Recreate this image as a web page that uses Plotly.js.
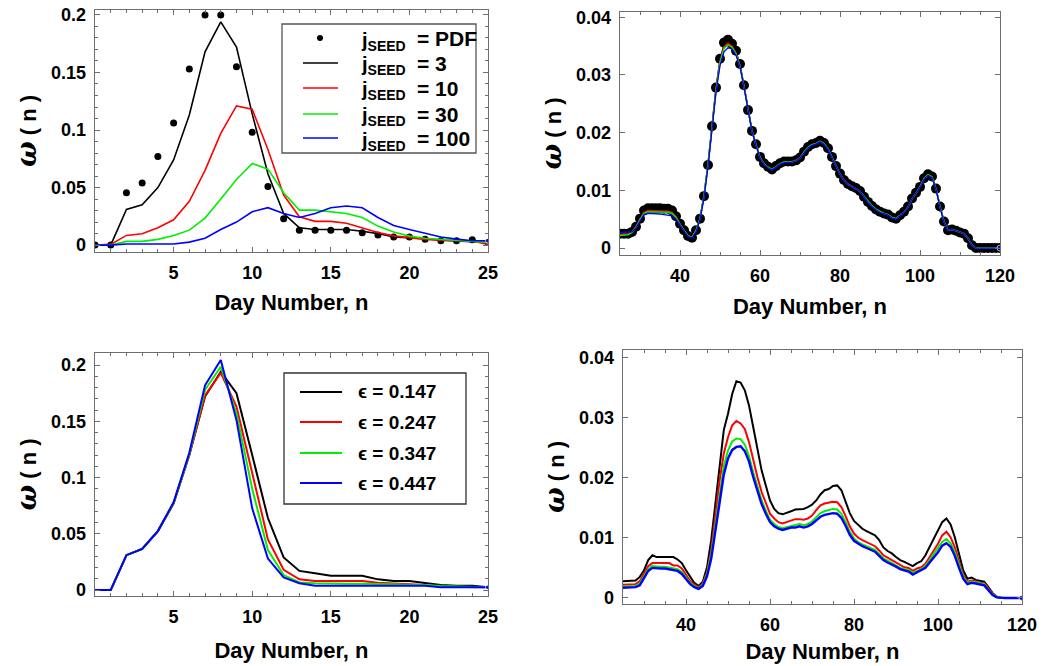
<!DOCTYPE html>
<html><head><meta charset="utf-8">
<script src="https://cdn.plot.ly/plotly-3.0.1.min.js"></script>
<style>html,body{margin:0;padding:0;background:#fff;}#chart{width:1061px;height:666px;}</style>
</head><body><div id="chart"></div>
<script>
// ---------- data ----------
const daysShort = [0,1,2,3,4,5,6,7,8,9,10,11,12,13,14,15,16,17,18,19,20,21,22,23,24,25];
const daysLong = [25,26,27,28,29,30,31,32,33,34,35,36,37,38,39,40,41,42,43,44,45,46,47,48,49,50,51,52,53,54,55,56,57,58,59,60,61,62,63,64,65,66,67,68,69,70,71,72,73,74,75,76,77,78,79,80,81,82,83,84,85,86,87,88,89,90,91,92,93,94,95,96,97,98,99,100,101,102,103,104,105,106,107,108,109,110,111,112,113,114,115,116,117,118,119,120];

// top-left: seeds
const tlPDF  = [0,0,0.0455,0.054,0.077,0.106,0.153,0.2,0.2,0.155,0.098,0.051,0.023,0.0128,0.0128,0.0128,0.0128,0.0107,0.0087,0.007,0.007,0.005,0.0038,0.0038,0.0046,0.0023];
const tlJ3   = [0,0,0.031,0.035,0.05,0.074,0.113,0.168,0.194,0.172,0.114,0.062,0.0275,0.015,0.0136,0.0136,0.0136,0.012,0.010,0.007,0.0064,0.0055,0.0043,0.0038,0.003,0.0023];
const tlJ10  = [0,0.0006,0.0084,0.0099,0.015,0.022,0.038,0.065,0.097,0.121,0.118,0.083,0.0435,0.0246,0.0206,0.0206,0.019,0.015,0.011,0.008,0.0064,0.005,0.0043,0.0038,0.0035,0.0006];
const tlJ30  = [0,0,0.0032,0.0032,0.005,0.0084,0.013,0.0235,0.04,0.057,0.071,0.066,0.0455,0.0304,0.0304,0.029,0.0275,0.024,0.0165,0.0113,0.0078,0.006,0.005,0.0038,0.003,0.0023];
const tlJ100 = [0,0,0.001,0.001,0.001,0.001,0.0026,0.006,0.0136,0.02,0.029,0.0325,0.0275,0.024,0.0275,0.0325,0.034,0.0325,0.024,0.017,0.0136,0.01,0.007,0.0052,0.0038,0.0038];

// bottom-left: epsilon
const blE147 = [0,0,0.031,0.0365,0.0524,0.077,0.12,0.172,0.194,0.175,0.12,0.064,0.029,0.017,0.015,0.0127,0.0127,0.0127,0.0095,0.008,0.008,0.006,0.0044,0.0038,0.0038,0.0024];
const blE247 = [0,0,0.031,0.0365,0.0524,0.077,0.12,0.173,0.193,0.163,0.104,0.045,0.018,0.0095,0.008,0.008,0.008,0.008,0.0065,0.006,0.005,0.0044,0.003,0.003,0.003,0.0024];
const blE347 = [0,0,0.031,0.0365,0.0524,0.0775,0.121,0.178,0.1985,0.157,0.09,0.0355,0.0133,0.0068,0.006,0.0056,0.0056,0.0056,0.0056,0.0052,0.0044,0.0044,0.0035,0.003,0.0028,0.0024];
const blE447 = [0,0,0.031,0.0365,0.0524,0.078,0.122,0.182,0.2044,0.151,0.0726,0.028,0.0113,0.006,0.0038,0.0038,0.0038,0.0038,0.0038,0.0038,0.0038,0.0038,0.0024,0.0024,0.0024,0.0024];

// top-right: seeds (days 25-120)
const trPDF = [0.0025,0.0025,0.0025,0.0028,0.0037,0.0051,0.0065,0.0069,0.0069,0.0069,
 0.0069,0.0068,0.0068,0.0065,0.0055,0.0042,0.0031,0.0021,0.0018,0.0031,
 0.0051,0.0090,0.0144,0.0211,0.0278,0.0328,0.0356,0.0361,0.0354,0.0342,
 0.0319,0.0282,0.0239,0.0203,0.0180,0.0158,0.0147,0.0141,0.0136,0.0142,
 0.0147,0.0150,0.0150,0.0150,0.0152,0.0157,0.0167,0.0175,0.0180,0.0182,
 0.0186,0.0182,0.0173,0.0158,0.0142,0.0129,0.0118,0.0111,0.0107,0.0104,
 0.0099,0.0089,0.0080,0.0073,0.0067,0.0063,0.0060,0.0058,0.0053,0.0051,
 0.0057,0.0063,0.0072,0.0086,0.0096,0.0106,0.0121,0.0128,0.0124,0.0103,
 0.0072,0.0046,0.0031,0.0032,0.0030,0.0027,0.0025,0.0017,0.0005,0,
 0,0,0,0,0,0];
const trJ3 = [0.0025,0.0025,0.0026,0.0029,0.0038,0.0051,0.0064,0.0068,0.0068,0.0068,
 0.0068,0.0067,0.0067,0.0064,0.0055,0.0042,0.0031,0.0022,0.0019,0.0030,
 0.0052,0.0091,0.0145,0.0212,0.0277,0.0326,0.0352,0.0358,0.0352,0.0340,
 0.0318,0.0281,0.0239,0.0203,0.0180,0.0158,0.0147,0.0141,0.0137,0.0141,
 0.0146,0.0149,0.0150,0.0150,0.0152,0.0157,0.0166,0.0175,0.0180,0.0182,
 0.0185,0.0182,0.0173,0.0158,0.0142,0.0129,0.0118,0.0111,0.0107,0.0104,
 0.0099,0.0089,0.0080,0.0073,0.0067,0.0063,0.0060,0.0058,0.0053,0.0051,
 0.0057,0.0063,0.0072,0.0086,0.0096,0.0106,0.0121,0.0128,0.0124,0.0103,
 0.0072,0.0046,0.0031,0.0032,0.0030,0.0027,0.0025,0.0017,0.0005,0,
 0,0,0,0,0,0];
const trJ10 = [0.0024,0.0024,0.0025,0.0028,0.0037,0.0050,0.0062,0.0065,0.0065,0.0065,
 0.0065,0.0064,0.0064,0.0062,0.0054,0.0041,0.0030,0.0021,0.0019,0.0030,
 0.0051,0.0090,0.0145,0.0211,0.0275,0.0324,0.0349,0.0355,0.0350,0.0338,
 0.0316,0.0280,0.0238,0.0203,0.0179,0.0157,0.0146,0.0140,0.0136,0.0141,
 0.0146,0.0149,0.0149,0.0150,0.0152,0.0157,0.0166,0.0174,0.0179,0.0181,
 0.0185,0.0181,0.0172,0.0157,0.0141,0.0128,0.0118,0.0111,0.0107,0.0103,
 0.0098,0.0089,0.0080,0.0073,0.0067,0.0063,0.0060,0.0058,0.0053,0.0051,
 0.0056,0.0062,0.0071,0.0085,0.0095,0.0106,0.0120,0.0127,0.0123,0.0103,
 0.0072,0.0046,0.0031,0.0032,0.0030,0.0027,0.0025,0.0017,0.0005,0,
 0,0,0,0,0,0];
const trJ30 = [0.0022,0.0022,0.0023,0.0027,0.0036,0.0049,0.0060,0.0063,0.0063,0.0063,
 0.0063,0.0062,0.0062,0.0060,0.0053,0.0041,0.0030,0.0021,0.0019,0.0030,
 0.0051,0.0090,0.0145,0.0210,0.0273,0.0321,0.0346,0.0352,0.0348,0.0336,
 0.0315,0.0280,0.0238,0.0202,0.0179,0.0157,0.0146,0.0140,0.0136,0.0141,
 0.0146,0.0149,0.0149,0.0149,0.0151,0.0156,0.0166,0.0174,0.0179,0.0181,
 0.0185,0.0181,0.0172,0.0157,0.0141,0.0128,0.0117,0.0110,0.0106,0.0103,
 0.0098,0.0089,0.0080,0.0073,0.0067,0.0063,0.0060,0.0058,0.0053,0.0051,
 0.0056,0.0062,0.0071,0.0085,0.0095,0.0106,0.0120,0.0127,0.0123,0.0103,
 0.0072,0.0046,0.0031,0.0032,0.0030,0.0027,0.0025,0.0017,0.0005,0,
 0,0,0,0,0,0];
const trJ100 = [0.0027,0.0027,0.0027,0.0028,0.0035,0.0047,0.0058,0.0060,0.0060,0.0059,
 0.0059,0.0058,0.0057,0.0056,0.0050,0.0040,0.0029,0.0020,0.0018,0.0028,
 0.0049,0.0087,0.0141,0.0207,0.0270,0.0316,0.0340,0.0347,0.0345,0.0334,
 0.0314,0.0279,0.0237,0.0202,0.0178,0.0156,0.0145,0.0139,0.0135,0.0140,
 0.0145,0.0148,0.0148,0.0149,0.0151,0.0156,0.0165,0.0173,0.0178,0.0180,
 0.0184,0.0180,0.0171,0.0157,0.0141,0.0128,0.0117,0.0110,0.0106,0.0103,
 0.0098,0.0088,0.0079,0.0072,0.0066,0.0062,0.0059,0.0057,0.0052,0.0050,
 0.0056,0.0062,0.0071,0.0085,0.0095,0.0105,0.0119,0.0126,0.0122,0.0102,
 0.0071,0.0045,0.0031,0.0032,0.0030,0.0027,0.0025,0.0017,0.0005,0,
 0,0,0,0,0,0];

// bottom-right: epsilon (days 25-120)
const brE147 = [0.0028,0.0028,0.0028,0.0029,0.0035,0.0046,0.0063,0.0071,0.0068,0.0068,
 0.0068,0.0068,0.0068,0.0064,0.0058,0.0046,0.0035,0.0025,0.0020,0.0027,
 0.0051,0.0096,0.0157,0.0217,0.0279,0.0306,0.0339,0.0360,0.0358,0.0345,
 0.0320,0.0284,0.0245,0.0212,0.0187,0.0162,0.0148,0.0141,0.0139,0.0141,
 0.0144,0.0147,0.0148,0.0148,0.0151,0.0155,0.0162,0.0172,0.0179,0.0181,
 0.0186,0.0187,0.0179,0.0159,0.0141,0.0128,0.0121,0.0115,0.0111,0.0108,
 0.0104,0.0096,0.0084,0.0078,0.0074,0.0068,0.0063,0.0060,0.0057,0.0053,
 0.0058,0.0061,0.0071,0.0085,0.0097,0.0112,0.0126,0.0132,0.0122,0.0101,
 0.0074,0.0046,0.0032,0.0034,0.0030,0.0028,0.0027,0.0018,0.0008,0.0002,
 0,0,0,0,0,0];
const brE247 = [0.0022,0.0022,0.0022,0.0023,0.0028,0.0040,0.0053,0.0058,0.0058,0.0058,
 0.0058,0.0058,0.0054,0.0054,0.0049,0.0038,0.0028,0.0022,0.0018,0.0024,
 0.0043,0.0079,0.0134,0.0195,0.0240,0.0267,0.0287,0.0294,0.0290,0.0281,
 0.0259,0.0228,0.0201,0.0176,0.0157,0.0140,0.0132,0.0126,0.0124,0.0126,
 0.0129,0.0131,0.0131,0.0130,0.0132,0.0137,0.0146,0.0154,0.0157,0.0158,
 0.0160,0.0159,0.0151,0.0136,0.0119,0.0107,0.0100,0.0096,0.0093,0.0090,
 0.0086,0.0079,0.0071,0.0067,0.0063,0.0058,0.0054,0.0051,0.0050,0.0045,
 0.0049,0.0051,0.0057,0.0069,0.0079,0.0090,0.0104,0.0110,0.0101,0.0084,
 0.0060,0.0038,0.0027,0.0029,0.0028,0.0025,0.0025,0.0015,0.0007,0.0002,
 0,0,0,0,0,0];
const brE347 = [0.0019,0.0019,0.0019,0.0020,0.0024,0.0036,0.0048,0.0053,0.0052,0.0052,
 0.0052,0.0051,0.0049,0.0048,0.0043,0.0034,0.0025,0.0020,0.0016,0.0022,
 0.0040,0.0072,0.0122,0.0178,0.0219,0.0245,0.0260,0.0265,0.0264,0.0255,
 0.0236,0.0209,0.0184,0.0162,0.0145,0.0130,0.0123,0.0118,0.0116,0.0118,
 0.0120,0.0122,0.0123,0.0121,0.0123,0.0127,0.0134,0.0141,0.0144,0.0146,
 0.0148,0.0147,0.0140,0.0126,0.0110,0.0099,0.0093,0.0089,0.0086,0.0083,
 0.0080,0.0073,0.0066,0.0062,0.0058,0.0054,0.0050,0.0048,0.0046,0.0042,
 0.0045,0.0048,0.0053,0.0063,0.0071,0.0081,0.0093,0.0098,0.0091,0.0076,
 0.0055,0.0035,0.0025,0.0027,0.0026,0.0024,0.0023,0.0014,0.0006,0.0002,
 0,0,0,0,0,0];
const brE447 = [0.0017,0.0017,0.0017,0.0018,0.0021,0.0033,0.0045,0.0050,0.0049,0.0049,
 0.0049,0.0048,0.0046,0.0045,0.0040,0.0031,0.0023,0.0018,0.0015,0.0020,
 0.0036,0.0065,0.0112,0.0166,0.0205,0.0232,0.0246,0.0251,0.0252,0.0244,
 0.0227,0.0201,0.0177,0.0156,0.0140,0.0126,0.0119,0.0115,0.0113,0.0115,
 0.0117,0.0117,0.0119,0.0117,0.0119,0.0123,0.0129,0.0135,0.0138,0.0140,
 0.0141,0.0140,0.0133,0.0120,0.0105,0.0095,0.0090,0.0086,0.0083,0.0080,
 0.0077,0.0070,0.0063,0.0059,0.0056,0.0052,0.0048,0.0046,0.0044,0.0039,
 0.0043,0.0046,0.0050,0.0059,0.0067,0.0076,0.0087,0.0091,0.0085,0.0070,
 0.0050,0.0032,0.0023,0.0025,0.0024,0.0022,0.0021,0.0013,0.0005,0.0001,
 0,0,0,0,0,0];

const seedValues = ['PDF','3','10','30','100'];
const epsNames = ['ϵ = 0.147','ϵ = 0.247','ϵ = 0.347','ϵ = 0.447'];
const xTitle = 'Day Number, n';
const yTitle = '<span style="font-family:\'DejaVu Serif\';font-size:27px"><i>ω</i></span> ( n )';

// ---------- styling ----------
const FONT = 'Liberation Sans, Arial, sans-serif';
const C = {k:'#000000', r:'#ff0000', g:'#00ee00', b:'#0000ff'};
const seedColors = [C.k, C.k, C.r, C.g, C.b];
const epsColors = [C.k, C.r, C.g, C.b];
const W = 1061, H = 666;
function endDot(n, s){ const a = new Array(n).fill(0); a[n-1] = s; return a; }
const PX = x => x / W, PY = y => 1 - y / H;

const traces = [];
// top-left
traces.push({x:daysShort, y:tlPDF, mode:'markers', name:'PDF', marker:{color:C.k, size:7}, xaxis:'x', yaxis:'y'});
traces.push({x:daysShort, y:tlJ3, mode:'lines', name:'3', line:{color:C.k, width:1.6}, xaxis:'x', yaxis:'y'});
traces.push({x:daysShort, y:tlJ10, mode:'lines', name:'10', line:{color:C.r, width:1.6}, xaxis:'x', yaxis:'y'});
traces.push({x:daysShort, y:tlJ30, mode:'lines', name:'30', line:{color:C.g, width:1.6}, xaxis:'x', yaxis:'y'});
traces.push({x:daysShort, y:tlJ100, mode:'lines+markers', name:'100', line:{color:C.b, width:1.6}, marker:{color:C.b, size:endDot(daysShort.length,5)}, xaxis:'x', yaxis:'y'});
// top-right
traces.push({x:daysLong, y:trPDF, mode:'markers', name:'PDF', marker:{color:C.k, size:10}, xaxis:'x2', yaxis:'y2'});
traces.push({x:daysLong, y:trJ3, mode:'lines', name:'3', line:{color:C.k, width:1.5}, xaxis:'x2', yaxis:'y2'});
traces.push({x:daysLong, y:trJ10, mode:'lines', name:'10', line:{color:C.r, width:1.5}, xaxis:'x2', yaxis:'y2'});
traces.push({x:daysLong, y:trJ30, mode:'lines', name:'30', line:{color:C.g, width:1.5}, xaxis:'x2', yaxis:'y2'});
traces.push({x:daysLong, y:trJ100, mode:'lines+markers', name:'100', line:{color:C.b, width:1.3}, marker:{color:C.b, size:endDot(daysLong.length,6)}, xaxis:'x2', yaxis:'y2'});
// bottom-left
traces.push({x:daysShort, y:blE147, mode:'lines', name:epsNames[0], line:{color:C.k, width:2}, xaxis:'x3', yaxis:'y3'});
traces.push({x:daysShort, y:blE247, mode:'lines', name:epsNames[1], line:{color:C.r, width:2}, xaxis:'x3', yaxis:'y3'});
traces.push({x:daysShort, y:blE347, mode:'lines', name:epsNames[2], line:{color:C.g, width:2}, xaxis:'x3', yaxis:'y3'});
traces.push({x:daysShort, y:blE447, mode:'lines+markers', name:epsNames[3], line:{color:C.b, width:2}, marker:{color:C.b, size:endDot(daysShort.length,5)}, xaxis:'x3', yaxis:'y3'});
// bottom-right
traces.push({x:daysLong, y:brE147, mode:'lines', name:epsNames[0], line:{color:C.k, width:2}, xaxis:'x4', yaxis:'y4'});
traces.push({x:daysLong, y:brE247, mode:'lines', name:epsNames[1], line:{color:C.r, width:2}, xaxis:'x4', yaxis:'y4'});
traces.push({x:daysLong, y:brE347, mode:'lines', name:epsNames[2], line:{color:C.g, width:2}, xaxis:'x4', yaxis:'y4'});
traces.push({x:daysLong, y:brE447, mode:'lines+markers', name:epsNames[3], line:{color:C.b, width:2.4}, marker:{color:C.b, size:endDot(daysLong.length,6)}, xaxis:'x4', yaxis:'y4'});

const tickFont = {family:FONT, size:18, color:'#000', weight:'bold'};
const titleFont = {family:FONT, size:22, color:'#000', weight:'bold'};
function ax(domain, range, anchor, tickvals, minorDtick, title, standoff){
  return {
    domain: domain, range: range, anchor: anchor, autorange:false,
    showline:true, linecolor:'#6e6e6e', linewidth:1.3, mirror:'ticks',
    ticks:'inside', ticklen:5, tickwidth:1, tickcolor:'#6e6e6e',
    tickvals: tickvals, tickfont: tickFont, ticklabelstandoff: 4,
    minor: minorDtick ? {ticks:'inside', ticklen:3, tickcolor:'#6e6e6e', dtick:minorDtick, tick0:0, showgrid:false} : undefined,
    showgrid:false, zeroline:false, automargin:false,
    title: {text:title, font:titleFont, standoff:standoff}
  };
}
function px(a,b){ return [a/W, b/W]; }
function py(top,bot){ return [1-bot/H, 1-top/H]; }

// ---------- legends (boxes, keys, labels) ----------
const shapes = [], annotations = [];
const legFont = {family:FONT, size:21, color:'#000', weight:'bold'};
const subFont = {family:FONT, size:20, color:'#000', weight:'bold'};
shapes.push({type:'rect', xref:'paper', yref:'paper', x0:PX(282), x1:PX(476), y0:PY(153), y1:PY(24), line:{color:'#555', width:1.3}, fillcolor:'#fff', layer:'above'});
const seedRowY = [38, 63, 88, 114, 138];
seedValues.forEach((v,i) => {
  if (i === 0) {
    shapes.push({type:'circle', xref:'paper', yref:'paper', x0:PX(317), x1:PX(323), y0:PY(seedRowY[i]+3), y1:PY(seedRowY[i]-3), fillcolor:C.k, line:{color:C.k, width:0}, layer:'above'});
  } else {
    shapes.push({type:'line', xref:'paper', yref:'paper', x0:PX(303), x1:PX(338), y0:PY(seedRowY[i]), y1:PY(seedRowY[i]), line:{color:seedColors[i], width:1.6}, layer:'above'});
  }
  annotations.push({xref:'paper', yref:'paper', x:PX(359), y:PY(seedRowY[i]+3), xanchor:'left', yanchor:'middle', showarrow:false, text:'j<sub>SEED</sub>', font:subFont});
  annotations.push({xref:'paper', yref:'paper', x:PX(415), y:PY(seedRowY[i]), xanchor:'left', yanchor:'middle', showarrow:false, text:'= ' + v, font:legFont});
});
shapes.push({type:'rect', xref:'paper', yref:'paper', x0:PX(284), x1:PX(466), y0:PY(504), y1:PY(373), line:{color:'#333', width:1.3}, fillcolor:'#fff', layer:'above'});
const epsRowY = [392, 422, 453, 483];
epsNames.forEach((n,i) => {
  shapes.push({type:'line', xref:'paper', yref:'paper', x0:PX(300), x1:PX(342), y0:PY(epsRowY[i]), y1:PY(epsRowY[i]), line:{color:epsColors[i], width:2}, layer:'above'});
  annotations.push({xref:'paper', yref:'paper', x:PX(356), y:PY(epsRowY[i]), xanchor:'left', yanchor:'middle', showarrow:false, text:n, font:{family:FONT, size:19, color:'#000', weight:'bold'}});
});

const layout = {
  width:W, height:H, margin:{l:0,r:0,t:0,b:0}, paper_bgcolor:'#fff', plot_bgcolor:'#fff',
  font:{family:FONT, color:'#000'}, showlegend:false,
  xaxis:  ax(px(95,488),  [0,25],   'y',  [5,10,15,20,25], 1, xTitle, 12),
  yaxis:  ax(py(10,252),  [-0.006,0.2043], 'x', [0,0.05,0.1,0.15,0.2], 0.01, yTitle, 8),
  xaxis2: ax(px(620,1000),[25,120], 'y2', [40,60,80,100,120], 5, xTitle, 13),
  yaxis2: ax(py(12,255),  [-0.0012,0.0409], 'x2', [0,0.01,0.02,0.03,0.04], null, yTitle, 8),
  xaxis3: ax(px(95,488),  [0,25],   'y3', [5,10,15,20,25], 1, xTitle, 16),
  yaxis3: ax(py(353,596), [-0.0053,0.2107], 'x3', [0,0.05,0.1,0.15,0.2], 0.01, yTitle, 8),
  xaxis4: ax(px(623,1022),[25,120], 'y4', [40,60,80,100,120], 5, xTitle, 9),
  yaxis4: ax(py(350,604), [-0.001,0.0412], 'x4', [0,0.01,0.02,0.03,0.04], null, yTitle, 8),
  shapes: shapes, annotations: annotations
};
Plotly.newPlot('chart', traces, layout, {staticPlot:true, displayModeBar:false});
</script></body></html>
